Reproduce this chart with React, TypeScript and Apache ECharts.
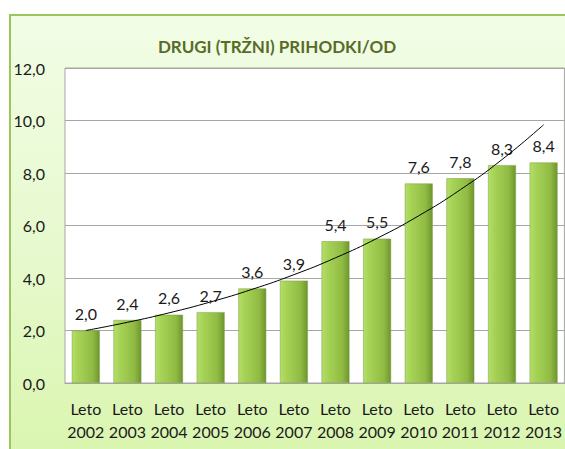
import React, { useEffect, useRef } from "react";
import * as echarts from "echarts";

const title = "DRUGI (TRŽNI) PRIHODKI/OD";
const categories = ["Leto\n2002", "Leto\n2003", "Leto\n2004", "Leto\n2005", "Leto\n2006", "Leto\n2007", "Leto\n2008", "Leto\n2009", "Leto\n2010", "Leto\n2011", "Leto\n2012", "Leto\n2013"];
const values = [2.0, 2.4, 2.6, 2.7, 3.6, 3.9, 5.4, 5.5, 7.6, 7.8, 8.3, 8.4];
const yTicks = { min: 0, max: 12, interval: 2 };

// Exponential trendline (least squares on ln(y)), as in the spreadsheet
function expTrend(vals: number[]): number[] {
  const n = vals.length;
  const xs = vals.map((_, i) => i + 1);
  const ls = vals.map((v) => Math.log(v));
  const mx = xs.reduce((a, b) => a + b, 0) / n;
  const ml = ls.reduce((a, b) => a + b, 0) / n;
  let sxy = 0, sxx = 0;
  for (let i = 0; i < n; i++) {
    sxy += (xs[i] - mx) * (ls[i] - ml);
    sxx += (xs[i] - mx) * (xs[i] - mx);
  }
  const b = sxy / sxx;
  const a = ml - b * mx;
  return xs.map((x) => Math.exp(a + b * x));
}

const fmt = (v: number) => v.toFixed(1).replace(".", ",");
const FONT = "Lato";

export default function App() {
  const ref = useRef<HTMLDivElement>(null);
  useEffect(() => {
    if (!ref.current) return;
    const chart = echarts.init(ref.current, undefined, { renderer: "svg" });
    chart.setOption({
      animation: false,
      textStyle: { fontFamily: FONT },
      graphic: [
        {
          type: "rect",
          z: -10,
          silent: true,
          shape: { x: 10, y: 15, width: 620, height: 500 },
          style: {
            fill: new echarts.graphic.LinearGradient(0, 0, 0, 1, [
              { offset: 0, color: "#f2fde6" },
              { offset: 0.5, color: "#e6f9cc" },
              { offset: 1, color: "#d6f4a6" },
            ]),
            stroke: "#9cc65c",
            lineWidth: 2,
          },
        },
      ],
      title: {
        text: title,
        left: 272,
        textAlign: "center",
        top: 33,
        textStyle: { fontFamily: FONT, fontSize: 17, fontWeight: "bold", color: "#586c28" },
      },
      grid: {
        left: 65,
        right: -3,
        top: 68,
        bottom: 66,
        show: true,
        backgroundColor: "#ffffff",
        borderColor: "#a6a6a6",
        borderWidth: 1,
      },
      xAxis: {
        type: "category",
        data: categories,
        axisLine: { show: true, lineStyle: { color: "#a6a6a6" } },
        axisTick: { show: false },
        axisLabel: {
          color: "#1a1a1a",
          fontFamily: FONT,
          fontSize: 16,
          lineHeight: 23,
          margin: 14,
          interval: 0,
        },
      },
      yAxis: {
        type: "value",
        min: yTicks.min,
        max: yTicks.max,
        interval: yTicks.interval,
        axisLine: { show: false },
        axisTick: { show: false },
        splitLine: { lineStyle: { color: "#a6a6a6", width: 1 } },
        axisLabel: {
          color: "#1a1a1a",
          fontFamily: FONT,
          fontSize: 16,
          margin: 20,
          formatter: (v: number) => fmt(v),
        },
      },
      series: [
        {
          type: "bar",
          data: values,
          barWidth: "67%",
          itemStyle: {
            color: new echarts.graphic.LinearGradient(0, 0, 1, 0, [
              { offset: 0, color: "#b4de6a" },
              { offset: 0.2, color: "#a7d457" },
              { offset: 0.75, color: "#8fbb43" },
              { offset: 1, color: "#6f9530" },
            ]),
            borderColor: "#7a9f3a",
            borderWidth: 0.5,
          },
          label: {
            show: true,
            position: "top",
            distance: 9,
            color: "#1a1a1a",
            fontFamily: FONT,
            fontSize: 16,
            formatter: (p: any) => fmt(p.value),
          },
        },
        {
          type: "line",
          data: expTrend(values),
          smooth: true,
          symbol: "none",
          silent: true,
          lineStyle: { color: "#000000", width: 1 },
          z: 5,
        },
      ],
    });
    return () => chart.dispose();
  }, []);
  return (
    <div
      ref={ref}
      style={{ position: "fixed", left: 0, top: 0, width: 565, height: 449, background: "#ffffff" }}
    />
  );
}
